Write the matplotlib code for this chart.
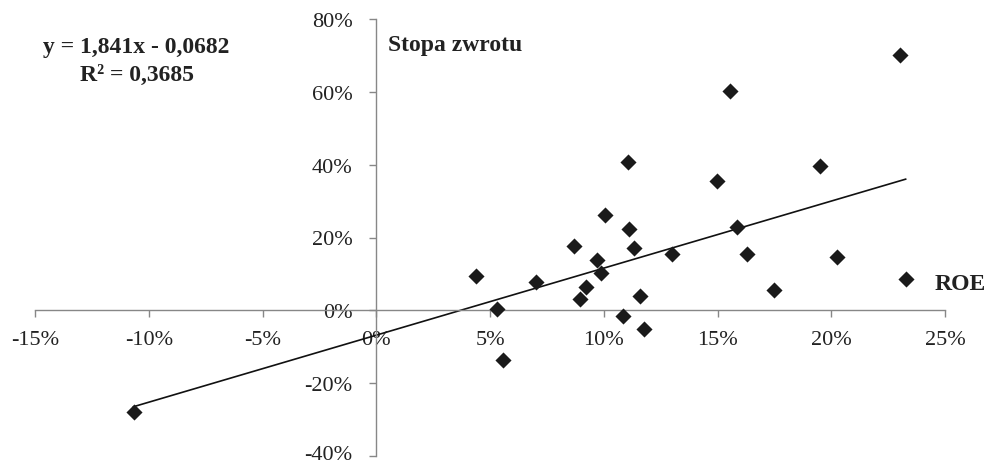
import numpy as np
import matplotlib.pyplot as plt
import matplotlib.transforms as mtransforms
from matplotlib.ticker import FuncFormatter

# data: ROE vs rate of return (in %)
roe = [-10.67, 4.4, 5.32, 5.57, 7.03, 8.69, 8.94, 9.2, 9.71, 9.86, 10.07,
       10.84, 11.06, 11.13, 11.35, 11.6, 11.77, 13.0, 14.99, 15.57, 15.87,
       16.31, 17.48, 19.49, 20.25, 23.03, 23.27]
stopa = [-27.95, 9.5, 0.4, -13.6, 7.8, 17.6, 3.1, 6.5, 13.8, 10.3, 26.1,
         -1.65, 40.6, 22.4, 17.1, 3.8, -5.1, 15.5, 35.4, 60.2, 22.8,
         15.6, 5.5, 39.6, 14.7, 70.1, 8.7]

slope = 1.841
intercept = -0.0682

x = np.array(roe) / 100
y = np.array(stopa) / 100

plt.rcParams['font.family'] = ['Liberation Serif', 'DejaVu Serif']

fig = plt.figure(figsize=(9.85, 4.64), dpi=100)
ax = fig.add_axes([35/985, 1-457/464, (945-35)/985, (457-20)/464])

ax.scatter(x, y, marker='D', s=8.2**2, color='#1a1a1a', zorder=3, linewidths=0)

# trend line over the data range
xl = np.array([x.min(), x.max()])
ax.plot(xl, slope*xl + intercept, color='#111111', lw=1.2, zorder=2)

ax.set_xlim(-0.15, 0.25)
ax.set_ylim(-0.40, 0.80)
ax.set_xticks(np.arange(-0.15, 0.2501, 0.05))
ax.set_yticks(np.arange(-0.40, 0.8001, 0.20))
pct = FuncFormatter(lambda v, p: f"{v*100:.0f}%".replace("-0%", "0%"))
ax.xaxis.set_major_formatter(pct)
ax.yaxis.set_major_formatter(pct)

for s in ['top', 'right']:
    ax.spines[s].set_visible(False)
for s in ['left', 'bottom']:
    ax.spines[s].set_position(('data', 0))
    ax.spines[s].set_color('#878787')
    ax.spines[s].set_linewidth(1.0)
ax.tick_params(axis='both', direction='out', length=5, width=1.0, color='#878787',
               labelsize=16, labelcolor='#222222')
ax.tick_params(axis='x', pad=9)
ax.tick_params(axis='y', pad=12)
ax.patch.set_alpha(0)

# keep the lowest y label inside the figure
fig.canvas.draw()
lab = ax.get_yticklabels()[0]
lab.set_transform(lab.get_transform() + mtransforms.ScaledTranslation(0, 3/72, fig.dpi_scale_trans))

bold = dict(fontsize=17, fontweight='bold', color='#222222', va='center')
fig.text(136/985, 1-48/464, "y = 1,841x - 0,0682", ha='center', **bold)
fig.text(137/985, 1-75/464, "R² = 0,3685", ha='center', **bold)
fig.text(388/985, 1-46/464, "Stopa zwrotu", ha='left', **bold)
fig.text(935/985, 1-285/464, "ROE", ha='left', **bold)

fig.savefig('out.png', dpi=100)
